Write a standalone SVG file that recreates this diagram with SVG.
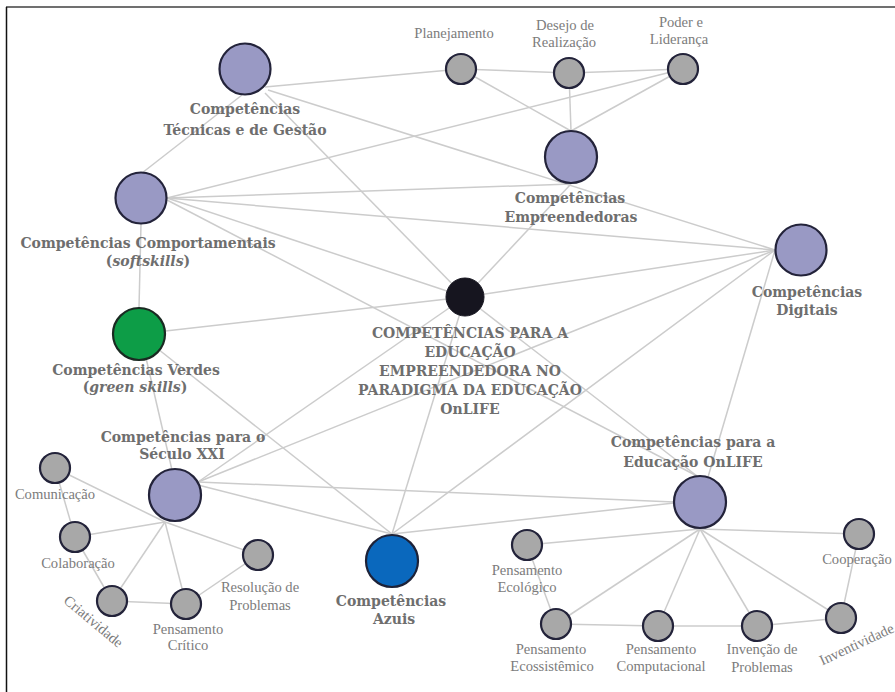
<svg xmlns="http://www.w3.org/2000/svg" width="895" height="692" viewBox="0 0 895 692">
<style>
.e{stroke:#cccccc;stroke-width:1.5;fill:none}
.big{fill:#9999c4;stroke:#23233a;stroke-width:2.2}
.sm{fill:#a8a8a8;stroke:#23233a;stroke-width:2.2}
.lb{font-family:"DejaVu Serif","Liberation Serif",serif;font-weight:bold;font-size:14px;fill:#6e6e6e;text-anchor:middle}
.ls{font-family:"Liberation Serif",serif;font-size:14.6px;fill:#7c7c7c;text-anchor:middle}
.it{font-style:italic}
</style>
<rect width="895" height="692" fill="#ffffff"/>
<line x1="6" y1="7" x2="895" y2="7" stroke="#707070" stroke-width="2"/>
<line x1="6.5" y1="7" x2="6.5" y2="692" stroke="#111111" stroke-width="1.5"/>
<g id="connectors">
<line class="e" x1="265" y1="87" x2="461" y2="69"/>
<line class="e" x1="268" y1="90" x2="775" y2="250"/>
<line class="e" x1="265" y1="93" x2="465" y2="297"/>
<line class="e" x1="242" y1="95" x2="142" y2="173"/>
<line class="e" x1="167" y1="198" x2="683" y2="69"/>
<line class="e" x1="167" y1="198" x2="571" y2="184"/>
<line class="e" x1="167" y1="198" x2="775" y2="250"/>
<line class="e" x1="167" y1="198" x2="465" y2="297"/>
<line class="e" x1="167" y1="200" x2="697" y2="476"/>
<line class="e" x1="141" y1="224" x2="139" y2="308"/>
<line class="e" x1="461" y1="69" x2="569" y2="73"/>
<line class="e" x1="569" y1="73" x2="683" y2="69"/>
<line class="e" x1="461" y1="69" x2="571" y2="131"/>
<line class="e" x1="569" y1="73" x2="571" y2="131"/>
<line class="e" x1="683" y1="69" x2="571" y2="131"/>
<line class="e" x1="571" y1="184" x2="465" y2="297"/>
<line class="e" x1="465" y1="297" x2="775" y2="250"/>
<line class="e" x1="465" y1="297" x2="139" y2="334"/>
<line class="e" x1="465" y1="297" x2="198" y2="482"/>
<line class="e" x1="465" y1="297" x2="392" y2="534"/>
<line class="e" x1="465" y1="297" x2="697" y2="476"/>
<line class="e" x1="146" y1="358" x2="172" y2="470"/>
<line class="e" x1="139" y1="334" x2="392" y2="534"/>
<line class="e" x1="198" y1="482" x2="775" y2="250"/>
<line class="e" x1="198" y1="482" x2="674" y2="502"/>
<line class="e" x1="198" y1="485" x2="392" y2="534"/>
<line class="e" x1="392" y1="534" x2="775" y2="250"/>
<line class="e" x1="392" y1="534" x2="674" y2="503"/>
<line class="e" x1="775" y1="250" x2="708" y2="477"/>
<line class="e" x1="165" y1="522" x2="55" y2="468"/>
<line class="e" x1="165" y1="522" x2="75" y2="537"/>
<line class="e" x1="165" y1="522" x2="112" y2="601"/>
<line class="e" x1="165" y1="522" x2="186" y2="604"/>
<line class="e" x1="165" y1="522" x2="258" y2="555"/>
<line class="e" x1="55" y1="468" x2="75" y2="537"/>
<line class="e" x1="75" y1="537" x2="112" y2="601"/>
<line class="e" x1="112" y1="601" x2="186" y2="604"/>
<line class="e" x1="186" y1="604" x2="258" y2="555"/>
<line class="e" x1="700" y1="529" x2="527" y2="545"/>
<line class="e" x1="700" y1="529" x2="556" y2="624"/>
<line class="e" x1="700" y1="529" x2="658" y2="626"/>
<line class="e" x1="700" y1="529" x2="757" y2="626"/>
<line class="e" x1="700" y1="529" x2="841" y2="618"/>
<line class="e" x1="700" y1="529" x2="859" y2="534"/>
<line class="e" x1="527" y1="545" x2="556" y2="624"/>
<line class="e" x1="556" y1="624" x2="658" y2="626"/>
<line class="e" x1="658" y1="626" x2="757" y2="626"/>
<line class="e" x1="757" y1="626" x2="841" y2="618"/>
<line class="e" x1="841" y1="618" x2="859" y2="534"/>
</g>
<g id="central"><circle cx="465" cy="297" r="19" fill="#16151f" stroke="#16151f" stroke-width="1"/>
<text class="lb"><tspan x="470" y="338">COMPETÊNCIAS PARA A</tspan><tspan x="470" y="357">EDUCAÇÃO</tspan><tspan x="470" y="376">EMPREENDEDORA NO</tspan><tspan x="470" y="395">PARADIGMA DA EDUCAÇÃO</tspan><tspan x="470" y="414">OnLIFE</tspan></text></g>
<g id="tecnicas"><circle class="big" cx="245" cy="69" r="25.5"/>
<text class="lb"><tspan x="245" y="114">Competências</tspan><tspan x="245" y="135">Técnicas e de Gestão</tspan></text></g>
<g id="comportamentais"><circle class="big" cx="141" cy="198" r="25.5"/>
<text class="lb"><tspan x="148" y="248">Competências Comportamentais</tspan><tspan x="148" y="266">(<tspan class="it">softskills</tspan>)</tspan></text></g>
<g id="empreendedoras"><circle class="big" cx="571" cy="157" r="26"/>
<text class="lb"><tspan x="570" y="203">Competências</tspan><tspan x="571" y="222">Empreendedoras</tspan></text></g>
<g id="digitais"><circle class="big" cx="801" cy="250" r="25.5"/>
<text class="lb"><tspan x="807" y="297">Competências</tspan><tspan x="807" y="315">Digitais</tspan></text></g>
<g id="verdes"><circle cx="139" cy="334" r="26" fill="#0d9d47" stroke="#1a2a22" stroke-width="2.2"/>
<text class="lb"><tspan x="136" y="375">Competências Verdes</tspan><tspan x="135" y="392">(<tspan class="it">green skills</tspan>)</tspan></text></g>
<g id="seculo"><circle class="big" cx="175" cy="495" r="26"/>
<text class="lb"><tspan x="183" y="442">Competências para o</tspan><tspan x="182" y="459">Século XXI</tspan></text></g>
<g id="azuis"><circle cx="392" cy="561" r="26" fill="#0a68bd" stroke="#1d2238" stroke-width="2.2"/>
<text class="lb"><tspan x="391" y="606">Competências</tspan><tspan x="394" y="624">Azuis</tspan></text></g>
<g id="onlife"><circle class="big" cx="700" cy="502" r="26"/>
<text class="lb"><tspan x="693" y="447">Competências para a</tspan><tspan x="693" y="467">Educação OnLIFE</tspan></text></g>
<g id="planejamento"><circle class="sm" cx="461" cy="69" r="15"/><text class="ls" x="454" y="38">Planejamento</text></g>
<g id="desejo"><circle class="sm" cx="569" cy="73" r="15"/><text class="ls"><tspan x="565" y="30">Desejo de</tspan><tspan x="564" y="47">Realização</tspan></text></g>
<g id="poder"><circle class="sm" cx="683" cy="69" r="15"/><text class="ls"><tspan x="681" y="27">Poder e</tspan><tspan x="679" y="44">Liderança</tspan></text></g>
<g id="comunicacao"><circle class="sm" cx="55" cy="468" r="15"/><text class="ls" x="55" y="499">Comunicação</text></g>
<g id="colaboracao"><circle class="sm" cx="75" cy="537" r="15"/><text class="ls" x="78" y="568">Colaboração</text></g>
<g id="criatividade"><circle class="sm" cx="112" cy="601" r="15"/><text class="ls" x="0" y="0" transform="translate(93,622) rotate(40)" dy="4">Criatividade</text></g>
<g id="critico"><circle class="sm" cx="186" cy="604" r="15"/><text class="ls"><tspan x="188" y="634">Pensamento</tspan><tspan x="188" y="650">Crítico</tspan></text></g>
<g id="resolucao"><circle class="sm" cx="258" cy="555" r="15"/><text class="ls"><tspan x="260" y="592">Resolução de</tspan><tspan x="260" y="610">Problemas</tspan></text></g>
<g id="ecologico"><circle class="sm" cx="527" cy="545" r="15"/><text class="ls"><tspan x="527" y="575">Pensamento</tspan><tspan x="527" y="592">Ecológico</tspan></text></g>
<g id="ecossistemico"><circle class="sm" cx="556" cy="624" r="15"/><text class="ls"><tspan x="551" y="654">Pensamento</tspan><tspan x="552" y="671">Ecossistêmico</tspan></text></g>
<g id="computacional"><circle class="sm" cx="658" cy="626" r="15"/><text class="ls"><tspan x="661" y="654">Pensamento</tspan><tspan x="661" y="671">Computacional</tspan></text></g>
<g id="invencao"><circle class="sm" cx="757" cy="626" r="15"/><text class="ls"><tspan x="762" y="654">Invenção de</tspan><tspan x="762" y="672">Problemas</tspan></text></g>
<g id="inventividade"><circle class="sm" cx="841" cy="618" r="15"/><text class="ls" x="0" y="0" dy="4" transform="translate(857,645) rotate(-25)">Inventividade</text></g>
<g id="cooperacao"><circle class="sm" cx="859" cy="534" r="15"/><text class="ls" x="857" y="564">Cooperação</text></g>
</svg>
